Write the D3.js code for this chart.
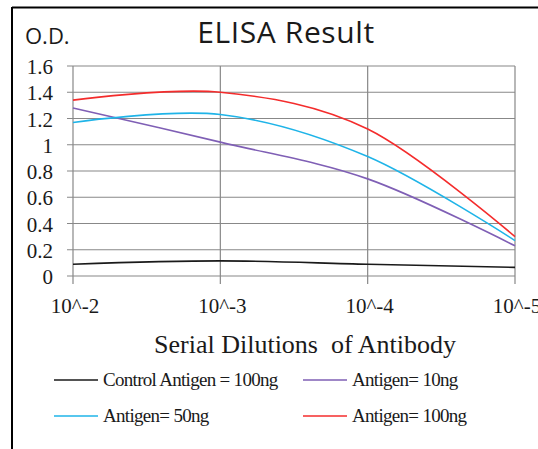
<!DOCTYPE html>
<html><head><meta charset="utf-8">
<script src="https://cdn.jsdelivr.net/npm/d3@7"></script>
<style>body{margin:0;background:#fff}svg{display:block}
.serif{font-family:'Liberation Serif','DejaVu Serif',serif}
.sans{font-family:'Open Sans','Liberation Sans',sans-serif}</style>
</head><body>
<svg id="c" width="538" height="449"></svg>
<script>
const dilutions = ["10^-2","10^-3","10^-4","10^-5"];
const yTicks = [0,0.2,0.4,0.6,0.8,1,1.2,1.4,1.6];
const seriesNames = ["Control Antigen = 100ng","Antigen= 10ng","Antigen= 50ng","Antigen= 100ng"];
const control100 = [0.09,0.115,0.09,0.066];
const antigen10 = [1.28,1.02,0.74,0.23];
const antigen50 = [1.17,1.23,0.91,0.27];
const antigen100 = [1.34,1.40,1.12,0.30];
const colors = ["#1a1a1a","#7f5fb5","#1fb4e8","#f42c2c"];

const svg = d3.select("#c");
// frame
svg.append("line").attr("x1",12).attr("x2",538).attr("y1",7.5).attr("y2",7.5).attr("stroke","#000").attr("stroke-width",2);
svg.append("line").attr("x1",12).attr("x2",12).attr("y1",7).attr("y2",449).attr("stroke","#000").attr("stroke-width",2);

const x = d3.scalePoint().domain(dilutions).range([73,515]);
const y = d3.scaleLinear().domain([0,1.6]).range([276,66]);

// grid
const g = svg.append("g");
g.selectAll(".hg").data(yTicks).join("line")
  .attr("x1",67).attr("x2",515).attr("y1",d=>y(d)).attr("y2",d=>y(d))
  .attr("stroke","#888").attr("stroke-width",1.2);
g.selectAll(".vg").data(dilutions).join("line")
  .attr("x1",d=>x(d)).attr("x2",d=>x(d)).attr("y1",66).attr("y2",284)
  .attr("stroke","#888").attr("stroke-width",1.2);

// y labels
svg.selectAll(".yl").data(yTicks).join("text").attr("class","serif")
  .attr("x",53).attr("y",d=>y(d)+8).attr("text-anchor","end")
  .attr("font-size",21).attr("fill","#1a1a1a")
  .text(d=>d3.format("~g")(d));
// x labels
svg.selectAll(".xl").data(dilutions).join("text").attr("class","serif")
  .attr("x",d=>x(d)+2).attr("y",313).attr("text-anchor","middle")
  .attr("font-size",21).attr("fill","#1a1a1a")
  .text(d=>d);

// titles
svg.append("text").attr("class","sans").attr("x",286).attr("y",43).attr("text-anchor","middle")
  .attr("font-size",30).attr("letter-spacing",0.6).attr("fill","#1a1a1a").text("ELISA Result");
svg.append("text").attr("class","sans").attr("x",25).attr("y",44)
  .attr("font-size",22).attr("fill","#1a1a1a").text("O.D.");
svg.append("text").attr("class","serif").attr("x",305).attr("y",353).attr("text-anchor","middle")
  .attr("font-size",26).attr("fill","#1a1a1a")
  .style("white-space","pre").text("Serial Dilutions  of Antibody");

// lines
const allSeries = [control100, antigen10, antigen50, antigen100];
const line = d3.line().x((d,i)=>x(dilutions[i])).y(d=>y(d)).curve(d3.curveCardinal.tension(0));
svg.selectAll(".series").data(allSeries).join("path")
  .attr("d",line).attr("fill","none").attr("stroke",(d,i)=>colors[i]).attr("stroke-width",1.6);

// legend
const legPos = [[54,380],[303,380],[54,416],[303,416]];
const lg = svg.selectAll(".lg").data(seriesNames).join("g")
  .attr("transform",(d,i)=>`translate(${legPos[i][0]},${legPos[i][1]})`);
lg.append("line").attr("x1",0).attr("x2",44).attr("stroke",(d,i)=>colors[i]).attr("stroke-width",1.6);
lg.append("text").attr("class","serif").attr("x",49).attr("y",6)
  .attr("font-size",19).attr("letter-spacing",-0.7).attr("fill","#1a1a1a").text(d=>d);
</script>
</body></html>
